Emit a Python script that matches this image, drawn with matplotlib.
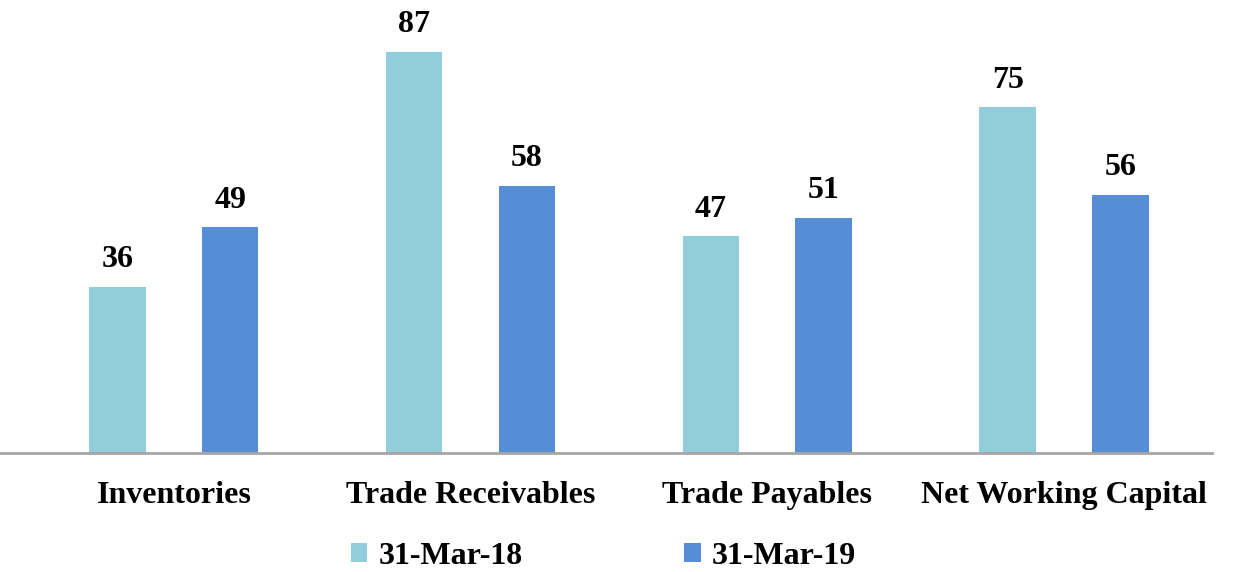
import numpy as np
import matplotlib.pyplot as plt

LIGHT = "#92CDDC"
DARK = "#558ED5"
AXIS_GRAY = "#A6A6A6"

categories = ["Inventories", "Trade Receivables", "Trade Payables", "Net Working Capital"]
series_names = ["31-Mar-18", "31-Mar-19"]
values_2018 = [36, 87, 47, 75]
values_2019 = [49, 58, 51, 56]

plt.rcParams["font.family"] = ["Liberation Serif", "DejaVu Serif"]
plt.rcParams["font.weight"] = "bold"

fig = plt.figure(figsize=(12.39, 5.72), dpi=100)
ax = fig.add_axes([0.0, 0.208, 0.978, 0.766])

x = np.arange(len(categories))
width = 0.19
offset = 0.19

b1 = ax.bar(x - offset, values_2018, width, color=LIGHT, label=series_names[0], zorder=2)
b2 = ax.bar(x + offset, values_2019, width, color=DARK, label=series_names[1], zorder=2)

for bars in (b1, b2):
    ax.bar_label(bars, padding=9, fontsize=23, fontweight="bold")

ax.set_xlim(-0.586, 3.498)
ax.set_ylim(0, 95)
ax.set_xticks(x)
ax.set_xticklabels(categories, fontsize=23, fontweight="bold")
ax.tick_params(axis="x", length=0, pad=20)
ax.set_yticks([])

for side in ("top", "right", "left"):
    ax.spines[side].set_visible(False)
ax.spines["bottom"].set_color(AXIS_GRAY)
ax.spines["bottom"].set_linewidth(2)

fig.legend(loc="center", bbox_to_anchor=(0.487, 0.027), ncol=2, frameon=False,
           handlelength=0.52, handleheight=0.52, handletextpad=0.35,
           columnspacing=5.04, prop={"weight": "bold", "size": 23})

fig.savefig("out.png", dpi=100, facecolor="white")
